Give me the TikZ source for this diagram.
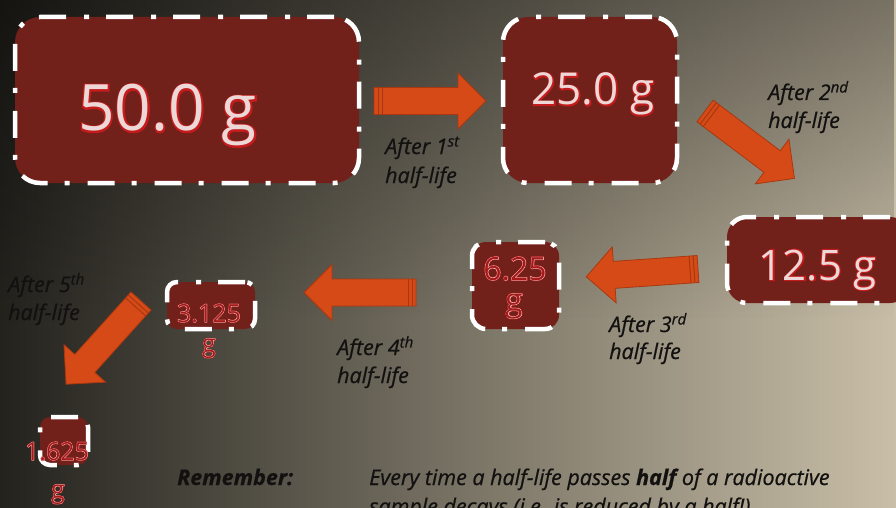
\documentclass[tikz,border=0pt]{standalone}
\usepackage{fontspec}
\setmainfont[FakeBold=0.7]{Open Sans}
\newfontfamily\numfont{Open Sans}
\newfontfamily\numrim[FakeBold=5]{Open Sans}
\newfontfamily\numring[FakeBold=2]{Open Sans}
\usetikzlibrary{fadings}

\definecolor{boxred}{HTML}{71201A}
\definecolor{arrowfill}{HTML}{D64A18}
\definecolor{arrowedge}{HTML}{A8380F}
\definecolor{numred}{HTML}{C41C1C}
\definecolor{numlight}{HTML}{EDD8D8}
\definecolor{labelink}{HTML}{121110}
\definecolor{bgleft}{HTML}{23221D}
\definecolor{bgmid}{HTML}{7A7362}
\definecolor{bgright}{HTML}{C9BFA8}

\tikzfading[name=topshade, top color=transparent!0, bottom color=transparent!100]

% outlined mass value: red rim, light face
\newcommand\bignum[4]{%
  \node[anchor=base, inner sep=0, font=\numrim\fontsize{#3}{#3}\selectfont, text=numred] at (#2) {#4};
  \node[anchor=base, inner sep=0, font=\numfont\fontsize{#3}{#3}\selectfont, text=numlight] (#1) at (#2) {#4};}
% small mass value: red rim, thin light ring, red face
\newcommand\smallnum[4]{%
  \node[anchor=base, inner sep=0, font=\numrim\fontsize{#3}{#3}\selectfont, text=numred] at (#2) {#4};
  \node[anchor=base, inner sep=0, font=\numring\fontsize{#3}{#3}\selectfont, text=numlight] at (#2) {#4};
  \node[anchor=base, inner sep=0, font=\numfont\fontsize{#3}{#3}\selectfont, text=numred!85!black] (#1) at (#2) {#4};}

\tikzset{
  massbox/.style={fill=boxred, draw=white, line width=4.5pt,
    dash pattern=on 27pt off 17pt on 5pt off 18pt, inner sep=0},
  steplabel/.style={anchor=base west, inner sep=0, text=labelink,
    font=\fontsize{21.5}{21.5}\selectfont\itshape},
  pics/blockarrow/.style={code={
    \fill[arrowfill, draw=arrowedge, line width=0.8pt]
      (0,-13.5) -- (84,-13.5) -- (84,-28) -- (112,0) -- (84,28) -- (84,13.5) -- (0,13.5) -- cycle;
    \draw[arrowedge, line width=1pt] (4,-13.5) -- (4,13.5) (8,-13.5) -- (8,13.5);
  }}
}

\begin{document}
\begin{tikzpicture}[x=1pt, y=-1pt]
\clip (0,0) rectangle (896,508);

% background
\begin{scope}[y=1pt]
  \shade[left color=bgleft, middle color=bgmid, right color=bgright] (0,-508) rectangle (896,0);
  \fill[black, opacity=0.4, path fading=topshade] (0,-320) rectangle (896,0);
\end{scope}

% mass boxes
\node[massbox, rounded corners=25pt, minimum width=344pt, minimum height=166pt] (m50) at (187,100) {};
\node[massbox, rounded corners=25pt, minimum width=174pt, minimum height=166pt] (m25) at (590,100) {};
\node[massbox, rounded corners=20pt, minimum width=183pt, minimum height=86pt] (m12) at (818.5,260) {};
\node[massbox, rounded corners=14pt, minimum width=87pt, minimum height=87pt] (m6) at (515.5,285.5) {};
\node[massbox, rounded corners=10pt, minimum width=88pt, minimum height=47pt] (m3) at (211,305.5) {};
\node[massbox, rounded corners=10pt, minimum width=48pt, minimum height=48pt] (m1) at (64,441) {};

% mass values
\bignum{t50}{167.5,131}{64}{50.0 g}
\bignum{t25}{593,105}{44}{25.0 g}
\bignum{t12}{817.5,280}{42}{12.5 g}
\smallnum{t6a}{515,280}{32}{6.25}
\smallnum{t6b}{514,311}{32}{g}
\smallnum{t3a}{209,322}{25}{3.125}
\smallnum{t3b}{209,352}{25}{g}
\smallnum{t1a}{57,460}{25}{1.625}
\smallnum{t1b}{58,498}{25}{g}

% half-life arrows
\coordinate (a1) at (374,101);
\coordinate (a2) at (705,111);
\coordinate (a3) at (698,269);
\coordinate (a4) at (416,292.5);
\coordinate (a5) at (141,301);
\path (a1) pic {blockarrow};
\path (a2) pic[rotate=-37] {blockarrow};
\path (a3) pic[rotate=-176] {blockarrow};
\path (a4) pic[rotate=180] {blockarrow};
\path (a5) pic[rotate=-132] {blockarrow};

% step labels
\node[steplabel] (l1a) at (385,154) {After 1\textsuperscript{st}};
\node[steplabel] (l1b) at (385,183) {half-life};
\node[steplabel] (l2a) at (768,100) {After 2\textsuperscript{nd}};
\node[steplabel] (l2b) at (768,128) {half-life};
\node[steplabel] (l3a) at (609,332) {After 3\textsuperscript{rd}};
\node[steplabel] (l3b) at (609,359) {half-life};
\node[steplabel] (l4a) at (337,355) {After 4\textsuperscript{th}};
\node[steplabel] (l4b) at (337,383) {half-life};
\node[steplabel] (l5a) at (8,292) {After 5\textsuperscript{th}};
\node[steplabel] (l5b) at (8,320) {half-life};

% reminder
\node[steplabel] (rem) at (177,485) {\bfseries Remember:};
\node[steplabel] (rule1) at (369,485) {Every time a half-life passes \textbf{half} of a radioactive};
\node[steplabel] (rule2) at (369,514) {sample decays (i.e. is reduced by a half!)};
\end{tikzpicture}
\end{document}
